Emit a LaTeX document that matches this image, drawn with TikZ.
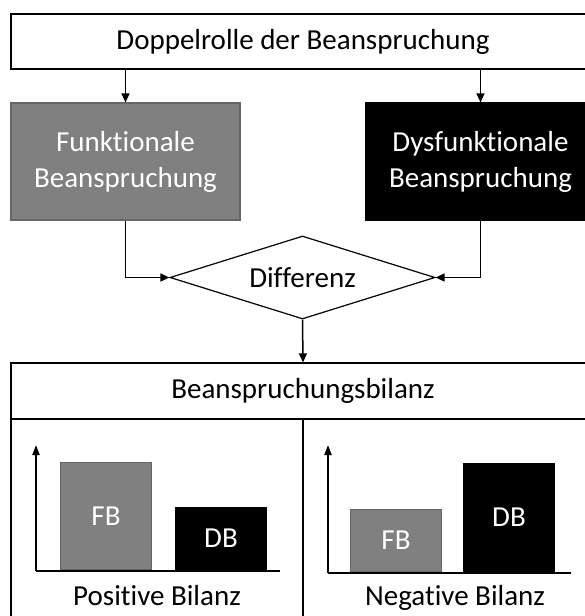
\documentclass[tikz,border=0pt]{standalone}
\usepackage{fontspec}
\setmainfont[Ligatures=NoCommon]{Carlito}
\usetikzlibrary{arrows.meta,positioning,shapes.geometric}

\begin{document}
\begin{tikzpicture}[x=1pt,y=-1pt] % Raster in Pixeln, y nach unten
\tikzset{every node/.style={font=\fontsize{29}{36}\selectfont}} % Schrift fuer alle Knoten
\tikzset{kasten/.style={draw,line width=1.2pt,rectangle,inner sep=0pt}}
\tikzset{fbfarbe/.style={fill=gray,draw=gray!80!black,text=white}} % funktional
\tikzset{dbfarbe/.style={fill=black,draw=black,text=white}} % dysfunktional
\tikzset{balken/.style={anchor=south west,inner sep=0pt,line width=1pt,minimum width=91pt}}
\tikzset{pfeil/.style={line width=1.5pt,-{Triangle[length=9pt,width=8pt]}}}
\tikzset{achse/.style={line width=2pt}}
\useasboundingbox (0,0) rectangle (584,616);
% oberer Teil
\node[kasten,minimum width=584pt,minimum height=55pt] (doppel) at (303,41.5) {Doppelrolle der Beanspruchung};
\node[kasten,fbfarbe,minimum width=229pt,minimum height=117pt,align=center] (fb) at (125.5,161.5) {Funktionale\\Beanspruchung};
\node[kasten,dbfarbe,minimum width=229pt,minimum height=117pt,align=center] (db) at (480.5,161.5) {Dysfunktionale\\Beanspruchung};
\node[draw,diamond,line width=1.2pt,inner sep=0pt,aspect=3.2,minimum width=265pt,minimum height=83pt] (diff) at (302.5,277.5) {Differenz};
\draw[pfeil] (doppel.south -| fb.north) -- (fb.north);
\draw[pfeil] (doppel.south -| db.north) -- (db.north);
\draw[pfeil] (fb.south) |- (diff.west);
\draw[pfeil] (db.south) |- (diff.east);
% Bilanz
\node[kasten,minimum width=584pt,minimum height=56pt] (bilanz) at (303,391) {Beanspruchungsbilanz};
\node[kasten,minimum width=292pt,minimum height=221pt] (posfeld) at (157,529.5) {};
\node[kasten,minimum width=292pt,minimum height=221pt] (negfeld) at (449,529.5) {};
\draw[pfeil] (diff.south) -- (bilanz.north);
% positive Bilanz
\coordinate (pos0) at (36,571);
\coordinate (posY) at (36,445);
\coordinate (posX) at (280,571);
\draw[achse,-{Triangle[length=10pt,width=7pt]}] (pos0) -- (posY);
\draw[achse] (pos0) -- (posX);
\node[balken,fbfarbe,minimum height=107pt] (posfb) at (60,570) {FB};
\node[balken,dbfarbe,minimum height=62pt] (posdb) at (175,570) {DB};
\node (poslabel) at (157,596) {Positive Bilanz};
% negative Bilanz
\coordinate (neg0) at (328,573);
\coordinate (negY) at (328,445);
\coordinate (negX) at (571,573);
\draw[achse,-{Triangle[length=10pt,width=7pt]}] (neg0) -- (negY);
\draw[achse] (neg0) -- (negX);
\node[balken,fbfarbe,minimum height=62pt] (negfb) at (350,572) {FB};
\node[balken,dbfarbe,minimum height=108pt] (negdb) at (463,572) {DB};
\node (neglabel) at (455,598) {Negative Bilanz};
\end{tikzpicture}
\end{document}
